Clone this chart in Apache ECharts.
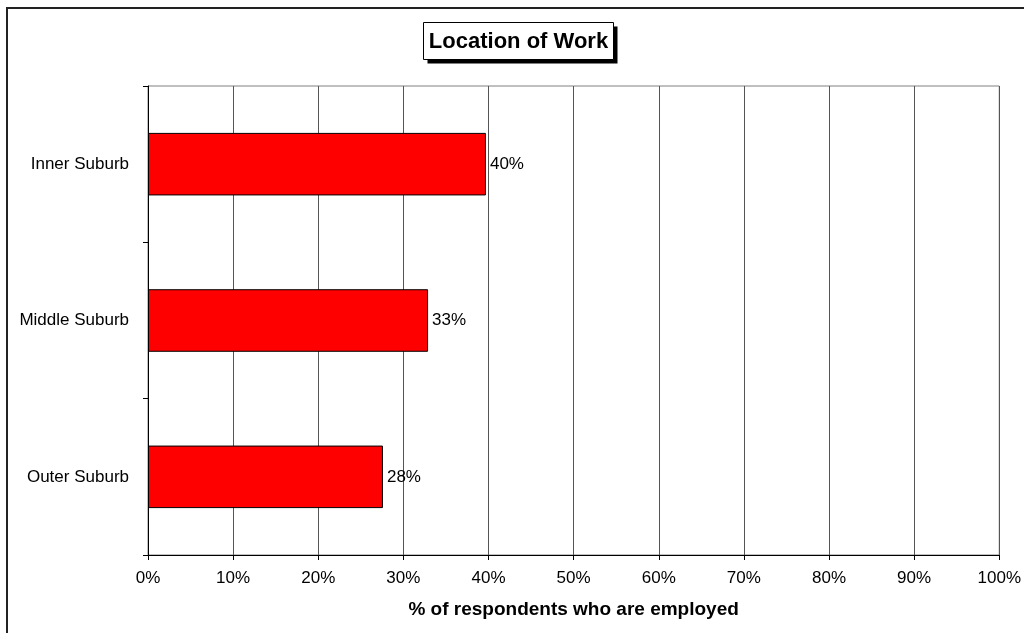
<!DOCTYPE html>
<html>
<head>
<meta charset="utf-8">
<script src="https://cdn.jsdelivr.net/npm/echarts@6/dist/echarts.min.js"></script>
<style>
  html, body { margin: 0; padding: 0; background: #fff; }
  #chart { width: 1024px; height: 633px; }
</style>
</head>
<body>
<div id="chart"></div>
<script>
// Work location of employed respondents, by suburb ring
const categories = ['Inner Suburb', 'Middle Suburb', 'Outer Suburb'];
const shares = [0.397, 0.329, 0.276];
const tickValues = [0, 0.1, 0.2, 0.3, 0.4, 0.5, 0.6, 0.7, 0.8, 0.9, 1.0];

const FONT = 'Liberation Sans, Arial, sans-serif';
const pct = v => Math.round(v * 100) + '%';

const chart = echarts.init(document.getElementById('chart'), null, { renderer: 'canvas' });

chart.setOption({
  backgroundColor: '#ffffff',
  animation: false,
  textStyle: { fontFamily: FONT },
  graphic: [
    {
      type: 'rect',
      shape: { x: 7, y: 8, width: 1100, height: 700 },
      style: { fill: 'none', stroke: '#222', lineWidth: 2 },
      silent: true
    },
    {
      type: 'group',
      left: 423,
      top: 22,
      children: [
        { type: 'rect', shape: { x: 4, y: 4, width: 190, height: 37 }, style: { fill: '#000' } },
        { type: 'rect', shape: { x: 0, y: 0, width: 190, height: 37 }, style: { fill: '#fff', stroke: '#000', lineWidth: 1 } },
        {
          type: 'text',
          x: 95, y: 19,
          style: {
            text: 'Location of Work',
            fontFamily: FONT, fontWeight: 'bold', fontSize: 22,
            fill: '#000', align: 'center', verticalAlign: 'middle'
          }
        }
      ]
    }
  ],
  grid: {
    left: 148, right: 22, top: 86, bottom: 78,
    show: true, borderColor: '#808080', borderWidth: 1, backgroundColor: 'transparent'
  },
  xAxis: {
    type: 'value',
    min: 0, max: 1, interval: 0.1,
    name: '% of respondents who are employed',
    nameLocation: 'middle',
    nameGap: 45,
    nameTextStyle: { fontFamily: FONT, fontWeight: 'bold', fontSize: 19, color: '#000' },
    axisLine: { show: true, lineStyle: { color: '#000', width: 1 } },
    axisTick: { show: true, length: 5, lineStyle: { color: '#000' } },
    axisLabel: {
      margin: 15, fontSize: 17, color: '#000', fontFamily: FONT,
      formatter: v => tickValues.includes(Math.round(v * 10) / 10) ? pct(v) : ''
    },
    splitLine: { show: true, lineStyle: { color: '#555', width: 1 } }
  },
  yAxis: {
    type: 'category',
    data: categories,
    inverse: true,
    axisLine: { show: true, lineStyle: { color: '#000', width: 1 } },
    axisTick: { show: true, length: 5, interval: 0, alignWithLabel: false, lineStyle: { color: '#000' } },
    axisLabel: { margin: 19, fontSize: 17, color: '#000', fontFamily: FONT },
    splitLine: { show: false }
  },
  series: [
    {
      type: 'bar',
      data: shares,
      barWidth: '40%',
      itemStyle: { color: '#ff0000', borderColor: '#000', borderWidth: 1 },
      label: {
        show: true, position: 'right', distance: 4,
        fontSize: 17, color: '#000', fontFamily: FONT,
        formatter: p => pct(p.value)
      }
    }
  ]
});
</script>
</body>
</html>
